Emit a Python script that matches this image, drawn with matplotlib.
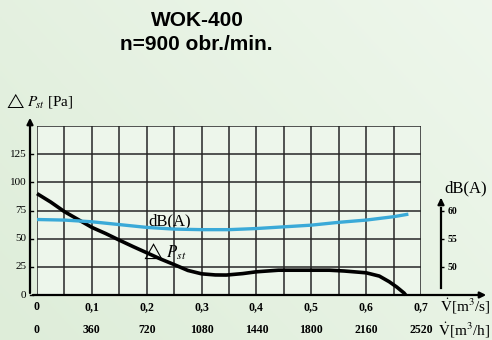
import numpy as np
import matplotlib
matplotlib.use("Agg")
import matplotlib.pyplot as plt

# ---- data ----
flow_m3s = [0.0, 0.025, 0.05, 0.075, 0.1, 0.125, 0.15, 0.175, 0.2, 0.225, 0.25, 0.275, 0.3,
            0.325, 0.345, 0.375, 0.4, 0.44, 0.5, 0.533, 0.56, 0.6, 0.624, 0.642, 0.656, 0.669, 0.672]
pressure_pa = [90, 82.5, 74, 67, 60, 54.6, 48.7, 43, 37.5, 32, 27, 21.8, 18.8,
               17.8, 17.7, 19, 20.6, 22, 22, 22, 21.3, 19.7, 16.8, 11.8, 7, 1.8, 0]

flow_db = [0.0, 0.05, 0.1, 0.15, 0.2, 0.25, 0.3, 0.35, 0.4, 0.45, 0.5, 0.55, 0.6, 0.65, 0.674]
noise_db = [58.4, 58.3, 58.0, 57.5, 57.0, 56.7, 56.6, 56.6, 56.8, 57.1, 57.4, 57.9, 58.3, 58.9, 59.3]

x_ticks = [0.0, 0.1, 0.2, 0.3, 0.4, 0.5, 0.6, 0.7]
x_labels = ["0", "0,1", "0,2", "0,3", "0,4", "0,5", "0,6", "0,7"]
x_labels_h = ["0", "360", "720", "1080", "1440", "1800", "2160", "2520"]
y_ticks = [0, 25, 50, 75, 100, 125]
y_labels = ["0", "25", "50", "75", "100", "125"]
db_ticks = [50, 55, 60]
db_labels = ["50", "55", "60"]

title1 = "WOK-400"
title2 = "n=900 obr./min."

W, H = 492, 340
fig = plt.figure(figsize=(W / 100, H / 100), dpi=100)

# background gradient
bg = fig.add_axes([0, 0, 1, 1], zorder=-10)
gx = np.linspace(0, 1, 200)
gy = np.linspace(0, 1, 140)
GX, GY = np.meshgrid(gx, gy)
t = np.clip(0.55 * GX + 0.35 * (1 - GY), 0, 1)
c0 = np.array([222, 237, 217]) / 255.0
c1 = np.array([240, 248, 238]) / 255.0
img = c0[None, None, :] * (1 - t[..., None]) + c1[None, None, :] * t[..., None]
bg.imshow(img, aspect="auto", extent=[0, 1, 0, 1], origin="upper")
bg.set_axis_off()

serif = "Liberation Serif"

# main axes in pixel positions
L, R, T, B = 37, 421, 126, 295
ax = fig.add_axes([L / W, (H - B) / H, (R - L) / W, (B - T) / H])
ax.set_facecolor((0.93, 0.965, 0.92))
ax.set_xlim(0, 0.7)
ax.set_ylim(0, 150)

for xv in np.arange(0, 0.7001, 0.05):
    ax.axvline(xv, color="#262626", lw=1.1, zorder=1)
for yv in np.arange(0, 150.1, 25):
    ax.axhline(yv, color="#262626", lw=1.1, zorder=1)
for s in ax.spines.values():
    s.set_visible(False)
ax.set_xticks([])
ax.set_yticks([])

ax.plot(flow_m3s, pressure_pa, color="black", lw=2.6, solid_capstyle="butt",
        solid_joinstyle="round", zorder=4, clip_on=False)

# dB curve on its own scale (45..75 matching 0..150 Pa)
ax2 = ax.twinx()
ax2.set_ylim(45, 75)
ax2.plot(flow_db, noise_db, color="#3aaad8", lw=2.4, solid_joinstyle="round", zorder=3)
for s in ["top", "left", "bottom"]:
    ax2.spines[s].set_visible(False)
ax2.spines["right"].set_position(("axes", (441 - L) / (R - L)))
ax2.spines["right"].set_bounds(46.2, 60.5)
ax2.spines["right"].set_linewidth(1.6)
ax2.set_yticks(db_ticks)
ax2.set_yticklabels(db_labels, fontfamily=serif, fontsize=7, fontweight="bold")
ax2.tick_params(axis="y", direction="out", length=2.5, width=1, pad=2)
ax2.annotate("", xy=((441 - L) / (R - L), (B - 195) / (B - T)),
             xytext=((441 - L) / (R - L), (B - 205) / (B - T)),
             xycoords="axes fraction",
             arrowprops=dict(arrowstyle="-|>", color="black", lw=1.6, mutation_scale=9))
fig.text(466 / W, 1 - 188 / H, "dB(A)", fontfamily=serif, fontsize=12, ha="center", va="center")

# in-plot labels
ax.text(0.241, 65, "dB(A)", fontfamily=serif, fontsize=12, ha="center", va="center", zorder=5)
ax.text(0.232, 39, r"$\triangle\,P_{st}$", fontsize=12, ha="center", va="center", zorder=5,
        math_fontfamily="stix")

# left axis with arrow
lx = (30 - L) / (R - L)
ax.annotate("", xy=(lx, (B - 115) / (B - T)), xytext=(lx, -0.005), xycoords="axes fraction",
            arrowprops=dict(arrowstyle="-|>", color="black", lw=1.6, mutation_scale=9))
for yv, lab in zip(y_ticks, y_labels):
    ax.plot([lx, lx + 0.008], [yv / 150, yv / 150], transform=ax.transAxes, color="black",
            lw=1, clip_on=False)
    ax.text(lx - 0.01, yv / 150, lab, transform=ax.transAxes, fontfamily=serif, fontsize=8,
            ha="right", va="center")
fig.text(4 / W, 1 - 100 / H, r"$\triangle\,P_{\!st}$ [Pa]", fontsize=11, ha="left", va="center",
         math_fontfamily="stix", fontfamily=serif)

# bottom axis with arrow
ax.annotate("", xy=((489 - L) / (R - L), 0), xytext=(lx, 0), xycoords="axes fraction",
            arrowprops=dict(arrowstyle="-|>", color="black", lw=1.6, mutation_scale=9))
for xv, l1, l2 in zip(x_ticks, x_labels, x_labels_h):
    ax.text(xv, -12 * 150 / (B - T), l1, fontfamily=serif, fontsize=8.5, fontweight="bold",
            ha="center", va="center")
    ax.text(xv, -35 * 150 / (B - T), l2, fontfamily=serif, fontsize=8.5, fontweight="bold",
            ha="center", va="center")
fig.text(1 - 2 / W, 1 - 306 / H, r"$\dot{\mathrm{V}}$[m$^3$/s]", fontsize=11, ha="right", va="center",
         math_fontfamily="stix", fontfamily=serif)
fig.text(1 - 2 / W, 1 - 330 / H, r"$\dot{\mathrm{V}}$[m$^3$/h]", fontsize=11, ha="right", va="center",
         math_fontfamily="stix", fontfamily=serif)

# title
fig.text(197 / W, 1 - 20 / H, title1, fontfamily="Liberation Sans", fontweight="bold", fontsize=15,
         ha="center", va="center")
fig.text(196 / W, 1 - 45 / H, title2, fontfamily="Liberation Sans", fontweight="bold", fontsize=15,
         ha="center", va="center")

fig.savefig("out.png", dpi=100)
